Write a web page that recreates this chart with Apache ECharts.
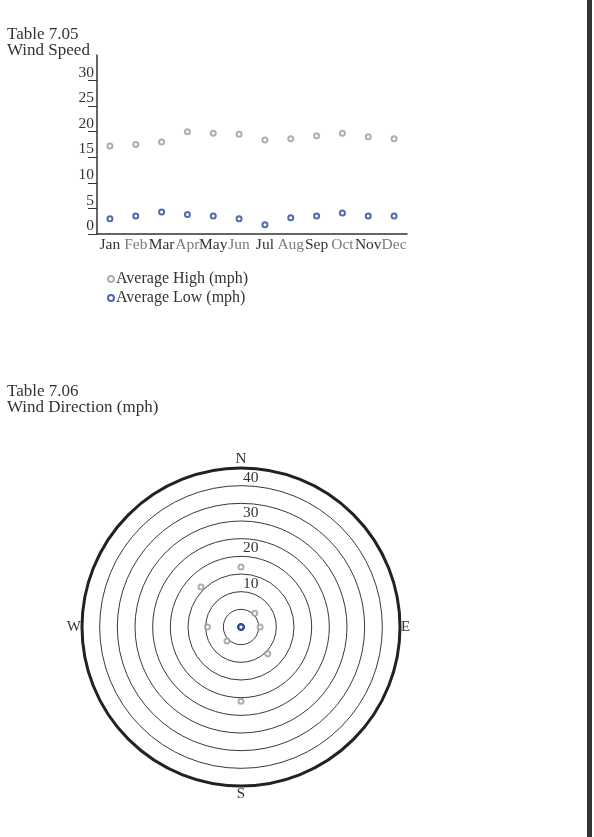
<!DOCTYPE html>
<html>
<head>
<meta charset="utf-8">
<script src="https://cdn.jsdelivr.net/npm/echarts@6/dist/echarts.min.js"></script>
<style>
  html, body { margin: 0; padding: 0; background: #fff; }
  #chart { width: 594px; height: 837px; }
</style>
</head>
<body>
<div id="chart"></div>
<script>
// Table 7.05 - wind speed by month
const months = ['Jan', 'Feb', 'Mar', 'Apr', 'May', 'Jun', 'Jul', 'Aug', 'Sep', 'Oct', 'Nov', 'Dec']
const avgHigh = [17.2, 17.5, 18.0, 20.0, 19.7, 19.5, 18.4, 18.6, 19.2, 19.7, 19.0, 18.6]
const avgLow = [3.0, 3.5, 4.3, 3.8, 3.5, 3.0, 1.8, 3.2, 3.5, 4.1, 3.5, 3.5]

// Table 7.06 - wind direction (compass degrees, clockwise from N)
const dirAngles = [0, 45, 90, 135, 180, 225, 270, 315]
const dirHigh = [17, 5.5, 5.4, 10.7, 21, 5.6, 9.5, 16]
const dirLow = [0, 0, 0, 0, 0, 0, 0, 0]
const compassLabels = ['N', 'E', 'S', 'W']
const radiusLabels = [10, 20, 30, 40]

const serif = 'Liberation Serif'
const ink = '#333'
const gray = '#9a9a9a'
const blue = '#23459a'

const chart = echarts.init(document.getElementById('chart'))

const option = {
  backgroundColor: '#fff',
  animation: false,
  title: [
    {
      text: 'Table 7.05\nWind Speed',
      left: 2, top: 22,
      textStyle: { fontFamily: serif, fontSize: 17, fontWeight: 'normal', color: ink, lineHeight: 16 }
    },
    {
      text: 'Table 7.06\nWind Direction (mph)',
      left: 2, top: 379,
      textStyle: { fontFamily: serif, fontSize: 17, fontWeight: 'normal', color: ink, lineHeight: 16 }
    }
  ],
  legend: {
    orient: 'vertical',
    left: 102, top: 266,
    itemWidth: 6, itemHeight: 6,
    itemGap: 3,
    data: ['Average High (mph)', 'Average Low (mph)'],
    textStyle: { fontFamily: serif, fontSize: 16, color: ink, padding: [0, 0, 0, -3] }
  },
  grid: { left: 97, right: 187, top: 55, bottom: 603 },
  xAxis: {
    type: 'category',
    data: months,
    axisLine: { lineStyle: { color: ink, width: 1.5 } },
    axisTick: { show: false },
    axisLabel: {
      interval: 0,
      margin: 3,
      fontFamily: serif,
      fontSize: 15.5,
      color: (v, i) => (i % 2 ? '#7a7a7a' : ink)
    }
  },
  yAxis: {
    type: 'value',
    min: 0, max: 35, interval: 5,
    splitLine: { show: false },
    axisLine: { show: true, lineStyle: { color: ink, width: 1.5 } },
    axisTick: { show: true, length: 9, lineStyle: { color: ink, width: 1 } },
    axisLabel: {
      showMaxLabel: false,
      margin: 3,
      verticalAlign: 'bottom',
      fontFamily: serif,
      fontSize: 15.5,
      color: ink
    }
  },
  polar: { center: [241, 627], radius: 159 },
  angleAxis: {
    type: 'value',
    min: 0, max: 360, interval: 90,
    startAngle: 90,
    clockwise: true,
    axisLine: { lineStyle: { color: '#222', width: 3 } },
    axisTick: { show: false },
    splitLine: { show: false },
    axisLabel: {
      margin: 1,
      fontFamily: serif,
      fontSize: 15,
      color: ink,
      formatter: v => compassLabels[Math.round(v / 90) % 4]
    }
  },
  radiusAxis: {
    type: 'value',
    min: 0, max: 45, interval: 5,
    axisLine: { show: false },
    axisTick: { show: false },
    splitLine: { show: true, lineStyle: { color: '#3a3a3a', width: 1 } },
    axisLabel: {
      margin: -2,
      align: 'left',
      verticalAlign: 'bottom',
      fontFamily: serif,
      fontSize: 15.5,
      color: ink,
      formatter: v => (radiusLabels.includes(v) ? String(v) : '')
    }
  },
  series: [
    {
      name: 'Average High (mph)',
      type: 'scatter',
      symbol: 'emptyCircle',
      symbolSize: 5,
      itemStyle: { color: gray, borderColor: gray, borderWidth: 1.3 },
      data: avgHigh
    },
    {
      name: 'Average Low (mph)',
      type: 'scatter',
      symbol: 'emptyCircle',
      symbolSize: 5,
      itemStyle: { color: blue, borderColor: blue, borderWidth: 1.8 },
      data: avgLow
    },
    {
      name: 'Direction High',
      type: 'scatter',
      coordinateSystem: 'polar',
      symbol: 'emptyCircle',
      symbolSize: 5,
      itemStyle: { color: gray, borderColor: gray, borderWidth: 1.3 },
      data: dirAngles.map((a, i) => [dirHigh[i], a])
    },
    {
      name: 'Direction Low',
      type: 'scatter',
      coordinateSystem: 'polar',
      symbol: 'emptyCircle',
      symbolSize: 5,
      itemStyle: { color: blue, borderColor: blue, borderWidth: 1.8 },
      data: dirAngles.map((a, i) => [dirLow[i], a])
    }
  ],
  graphic: [
    { type: 'rect', shape: { x: 587, y: 0, width: 5, height: 837 }, style: { fill: '#333' } }
  ]
}

chart.setOption(option)
</script>
</body>
</html>
